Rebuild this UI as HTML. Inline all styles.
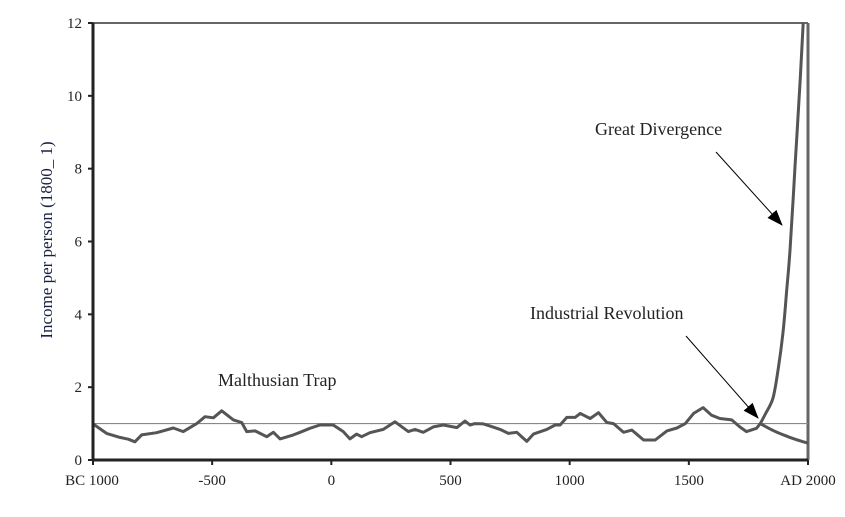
<!DOCTYPE html>
<html><head><meta charset="utf-8"><style>
body{margin:0;background:#fff;}
svg text{font-family:"Liberation Serif",serif;}
</style></head><body>
<svg width="845" height="512" viewBox="0 0 845 512">
<g id="plot"></g>
</svg>
<script>
const years=[-1000,-943,-887,-852,-824,-796,-733,-663,-621,-565,-530,-495,-460,-411,-376,-355,-320,-271,-243,-215,-159,-131,-90,-48,8,50,78,106,127,162,218,267,323,351,386,428,470,527,561,582,603,638,666,708,743,778,820,848,904,939,960,988,1023,1044,1086,1121,1156,1184,1226,1261,1310,1359,1408,1450,1485,1520,1560,1595,1630,1680,1714,1742,1784,1800];
const incomes=[0.99,0.73,0.62,0.57,0.5,0.69,0.75,0.88,0.78,1.0,1.19,1.16,1.35,1.1,1.03,0.78,0.8,0.64,0.76,0.58,0.69,0.76,0.87,0.96,0.96,0.78,0.58,0.71,0.64,0.75,0.84,1.05,0.78,0.84,0.76,0.91,0.96,0.89,1.07,0.96,1.0,0.99,0.93,0.84,0.73,0.76,0.51,0.71,0.84,0.96,0.96,1.17,1.17,1.28,1.14,1.3,1.03,1.0,0.76,0.82,0.55,0.55,0.8,0.88,1.0,1.28,1.44,1.23,1.14,1.1,0.91,0.78,0.87,1.0];
const divYears=[1800,1820,1853,1875,1895,1910,1925,1946,1967,1980];
const divIncomes=[1.0,1.25,1.7,2.5,3.5,4.6,5.8,8.1,10.4,12];
const trapYears=[1800,1850,1900,1950,2000];
const trapIncomes=[1.0,0.82,0.68,0.56,0.46];
const yTicks=[0,2,4,6,8,10,12];
const xTicks=[-1000,-500,0,500,1000,1500,2000];
const xTickLabels=["BC 1000","-500","0","500","1000","1500","AD 2000"];
const X0=93,X1=808,Y0=460,Y1=23;
const sx=v=>X0+(v+1000)/3000*(X1-X0);
const sy=v=>Y0-v/12*(Y0-Y1);
const g=document.getElementById('plot');
const NS='http://www.w3.org/2000/svg';
function mk(t,a){const e=document.createElementNS(NS,t);for(const k in a)e.setAttribute(k,a[k]);g.appendChild(e);return e;}
function smooth(xs,ys){const p=xs.map((x,i)=>[sx(x),sy(ys[i])]);let s='M'+p[0][0].toFixed(1)+','+p[0][1].toFixed(1);
 for(let i=0;i<p.length-1;i++){const a=p[i-1]||p[i],b=p[i],c=p[i+1],d=p[i+2]||c;
  s+=' C'+(b[0]+(c[0]-a[0])/6).toFixed(1)+','+(b[1]+(c[1]-a[1])/6).toFixed(1)+' '+(c[0]-(d[0]-b[0])/6).toFixed(1)+','+(c[1]-(d[1]-b[1])/6).toFixed(1)+' '+c[0].toFixed(1)+','+c[1].toFixed(1);}
 return s;}
let e;
e=mk('defs',{});e.innerHTML='<marker id="ah" markerUnits="userSpaceOnUse" markerWidth="16" markerHeight="12" refX="15" refY="6" orient="auto"><path d="M0,0 L16,6 L0,12 z" fill="#000"/></marker>';
e=mk('line',{x1:X0,y1:Y1,x2:X1,y2:Y1,stroke:'#666','stroke-width':2});


e=mk('line',{x1:X1,y1:Y1,x2:X1,y2:Y0,stroke:'#666','stroke-width':3});


e=mk('line',{x1:X0,y1:sy(1),x2:X1,y2:sy(1),stroke:'#888','stroke-width':1.2});


let d=years.map((y,i)=>(i?'L':'M')+sx(y).toFixed(1)+','+sy(incomes[i]).toFixed(1)).join(' ');
e=mk('path',{d:d,fill:'none',stroke:'#555','stroke-width':3,'stroke-linejoin':'round'});


e=mk('path',{d:smooth(divYears,divIncomes),fill:'none',stroke:'#555','stroke-width':3});


e=mk('path',{d:smooth(trapYears,trapIncomes),fill:'none',stroke:'#555','stroke-width':3});


e=mk('line',{x1:X0,y1:Y1,x2:X0,y2:Y0+1,stroke:'#222','stroke-width':3});


e=mk('line',{x1:X0,y1:Y0,x2:X1,y2:Y0,stroke:'#222','stroke-width':3});


yTicks.forEach(v=>{
 e=mk('line',{x1:X0-5,y1:sy(v),x2:X0,y2:sy(v),stroke:'#222','stroke-width':2});
 
 
 e=mk('text',{x:X0-11,y:sy(v)+5,'text-anchor':'end','font-size':15,fill:'#222'});e.textContent=v;
 
 
});
xTicks.forEach((v,i)=>{
 e=mk('line',{x1:sx(v),y1:Y0,x2:sx(v),y2:Y0+5,stroke:'#222','stroke-width':2});
 
 
 e=mk('text',{x:i==0?sx(v)-1:sx(v),y:Y0+25,'text-anchor':'middle','font-size':15,fill:'#222'});e.textContent=xTickLabels[i];
 
 
});
e=mk('text',{x:0,y:0,transform:'translate(52,240) rotate(-90)','text-anchor':'middle','font-size':17,fill:'#1a2040'});e.textContent='Income per person (1800_  1)';


e=mk('text',{x:218,y:386,'font-size':18,fill:'#222'});e.textContent='Malthusian Trap';


e=mk('text',{x:530,y:319,'font-size':18,fill:'#222'});e.textContent='Industrial Revolution';


e=mk('text',{x:595,y:135,'font-size':18,fill:'#222'});e.textContent='Great Divergence';


e=mk('line',{x1:686,y1:336,x2:758,y2:418,stroke:'#000','stroke-width':1,'marker-end':'url(#ah)'});


e=mk('line',{x1:716,y1:152,x2:782,y2:225,stroke:'#000','stroke-width':1,'marker-end':'url(#ah)'});


</script>
</body></html>
